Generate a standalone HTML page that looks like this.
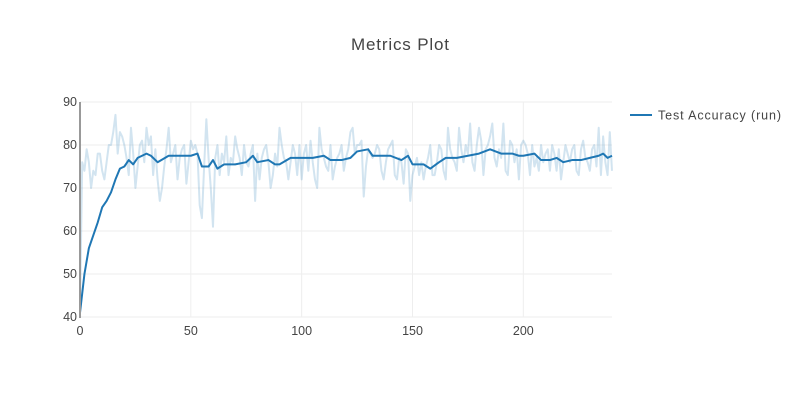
<!DOCTYPE html>
<html><head><meta charset="utf-8"><style>
body{margin:0;background:#fff;font-family:"Liberation Sans",sans-serif}
svg text{font-family:"Liberation Sans",sans-serif;fill:#444}
</style></head><body>
<svg width="800" height="400" id="c">
<rect width="800" height="400" fill="#fff"/>
<text x="400" y="50" font-size="17" text-anchor="middle" textLength="98">Metrics Plot</text>
<g id="grid"></g><g id="series"></g><g id="axes"></g>
<g>
<line x1="630" y1="115" x2="652" y2="115" stroke="#1f77b4" stroke-width="2"/>
<text x="658" y="119.5" font-size="12.5" textLength="123">Test Accuracy (run)</text>
</g>
</svg>
<script>
const rawY=[42,76,74,79,76,70,74,73,78,78,74,72,76,80,80,83,87,78,83,82,
80,77,73,84,78,70,75,80,81,76,84,80,82,73,79,72,67,70,75,79,
84,76,78,80,72,77,79,80,71,76,81,79,80,78,66,63,75,86,77,70,
61,77,80,73,78,76,82,73,77,76,82,79,77,73,80,76,75,78,80,67,
78,72,77,79,80,76,70,73,78,75,84,80,77,76,72,76,80,78,73,80,
72,78,80,74,81,76,72,70,84,79,77,75,74,80,72,75,77,78,80,74,
77,79,83,84,78,80,80,81,68,75,79,78,77,78,80,79,74,72,76,79,
80,81,73,72,77,76,71,79,78,67,73,75,77,73,76,72,75,77,80,73,
73,76,80,79,74,72,84,79,77,76,74,84,79,76,80,78,85,76,74,80,
84,81,73,79,80,82,85,77,75,79,77,85,74,73,81,80,76,79,72,80,
81,80,78,73,80,75,77,74,80,76,78,79,74,80,78,74,79,72,76,80,
78,76,79,80,74,73,79,81,77,76,74,79,80,75,84,73,82,76,73,83,74];
const smoothX=[0,2,4,6,8,10,12,14,16,18,20,22,24,26,28,30,32,35,40,45,50,53,55,58,60,62,65,70,75,78,80,85,88,90,95,100,105,110,113,118,122,125,130,132,135,140,145,148,150,155,158,162,165,170,175,180,185,190,195,198,200,205,208,212,215,218,222,226,230,234,236,238,240];
const smoothY=[41,50,56,59,62,65.5,67,69,72,74.5,75,76.5,75.5,77,77.5,78,77.5,76,77.5,77.5,77.5,78,75,75,76.5,74.5,75.5,75.5,76,77.5,76,76.5,75.5,75.5,77,77,77,77.5,76.5,76.5,77,78.5,79,77.5,77.5,77.5,76.5,77.5,75.5,75.5,74.5,76,77,77,77.5,78,79,78,78,77.5,77.5,78,76.5,76.5,77,76,76.5,76.5,77,77.5,78,77,77.5];
const xTicks=[0,50,100,150,200];
const yTicks=[40,50,60,70,80,90];
const X0=80,X1=612,Y0=317,Y1=102,XMAX=240;
const sx=v=>X0+v*(X1-X0)/XMAX, sy=v=>Y0-(v-40)*(Y0-Y1)/50;
const NS="http://www.w3.org/2000/svg";
function mk(t,a,p){const e=document.createElementNS(NS,t);for(const k in a)e.setAttribute(k,a[k]);p.appendChild(e);return e;}
const grid=document.getElementById('grid'),ax=document.getElementById('axes'),ser=document.getElementById('series');
yTicks.forEach(v=>{
const l=mk('line',{x1:X0,x2:X1,y1:sy(v),y2:sy(v),stroke:'#eee','stroke-width':1},grid);


const t=mk('text',{x:X0-3,y:sy(v)+4,'font-size':12.5,'text-anchor':'end'},ax);t.textContent=v;


});
xTicks.forEach(v=>{
const l=mk('line',{x1:sx(v),x2:sx(v),y1:Y1,y2:Y0,stroke:'#eee','stroke-width':1},grid);


const t=mk('text',{x:sx(v),y:Y0+18,'font-size':12.5,'text-anchor':'middle'},ax);t.textContent=v;


});
const yl=mk('line',{x1:X0,x2:X0,y1:Y1,y2:Y0+1,stroke:'#999','stroke-width':2},ax);


const rp=mk('polyline',{points:rawY.map((v,i)=>sx(i)+','+sy(v)).join(' '),fill:'none',stroke:'rgba(31,119,180,0.2)','stroke-width':2,'stroke-linejoin':'round'},ser);


const sp=mk('polyline',{points:smoothX.map((x,i)=>sx(x)+','+sy(smoothY[i])).join(' '),fill:'none',stroke:'#1f77b4','stroke-width':2,'stroke-linejoin':'round'},ser);


</script>
</body></html>
